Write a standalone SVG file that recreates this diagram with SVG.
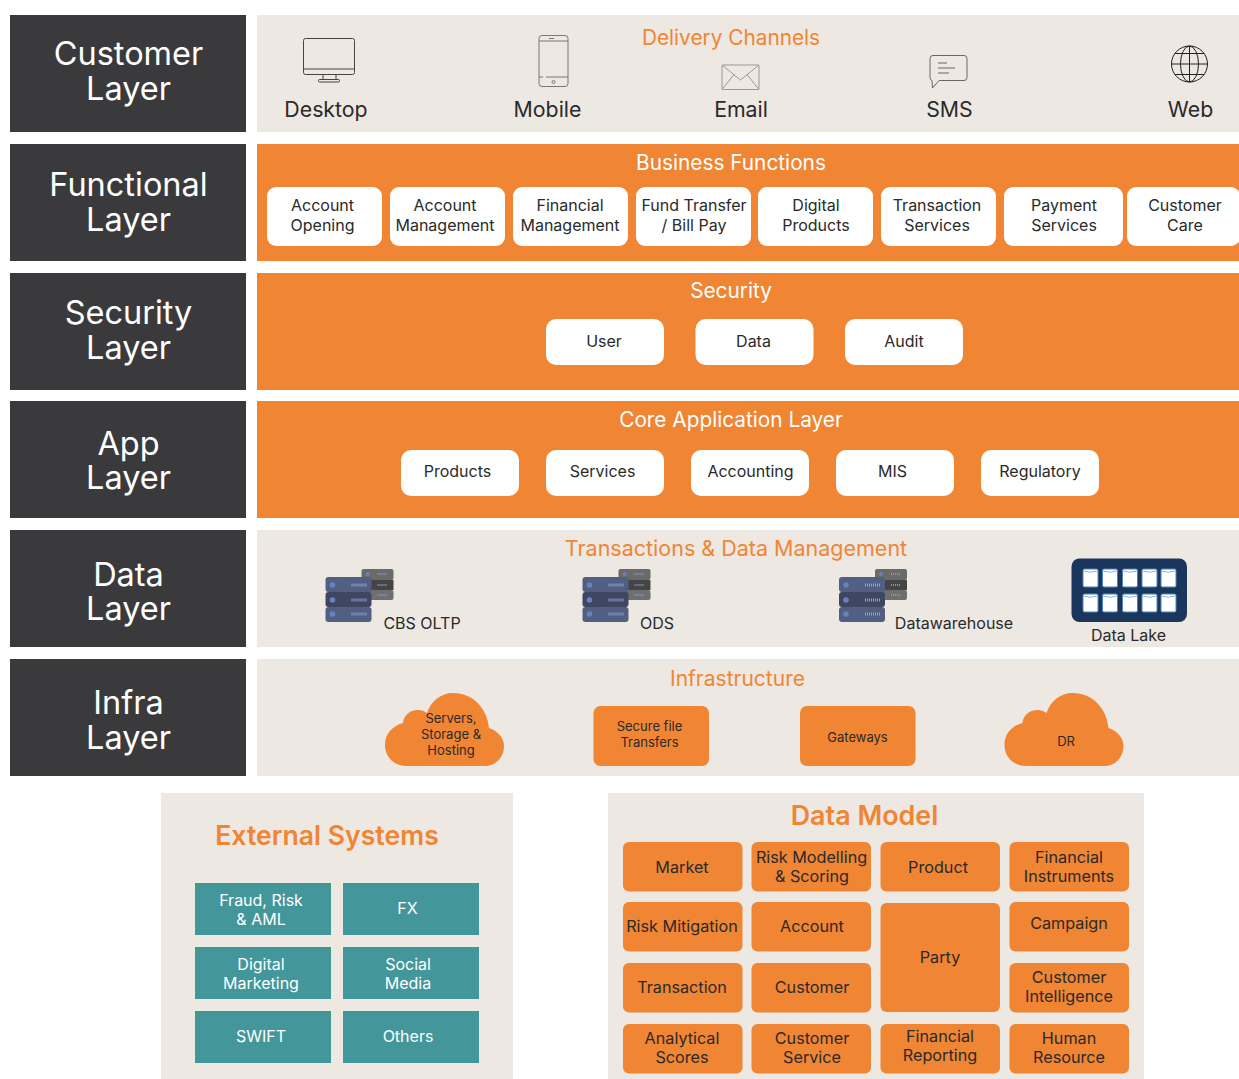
<svg xmlns="http://www.w3.org/2000/svg" xmlns:xlink="http://www.w3.org/1999/xlink" width="1239" height="1079" viewBox="0 0 1239 1079">
<style>
text{font-family:"Inter","Liberation Sans",sans-serif;text-anchor:middle;fill:#2a2a2a}
.lay{fill:#3a3a3c}.lt{fill:#fff;font-size:32.500px}
.beige{fill:#ede8e2}.or{fill:#f08534}
.h{fill:#f08534;font-size:20.800px}.hw{fill:#fff;font-size:20.800px}
.wb{fill:#fff}.t16{font-size:16px}.t21{font-size:21.300px}.t13{font-size:13px}
.teal{fill:#43979b}.tw{fill:#fff;font-size:16px}
.dm{font-size:16.200px}.ic{fill:none;stroke:#444;stroke-width:1}
</style>
<defs>
<g id="srv">
<rect x="36" y="0" width="32" height="11" rx="2" fill="#6a6a6a"/><rect x="36" y="11" width="32" height="10" fill="#444"/><rect x="36" y="21" width="32" height="10" rx="2" fill="#6f6f6f"/>
<circle cx="42" cy="5" r="2" fill="#6d7fbd"/><path d="M52 5h10M52 16h10M52 26h10" stroke="#8a93c0" stroke-width="2" stroke-dasharray="1 1"/>
<rect x="0" y="8" width="46" height="15" rx="3" fill="#535e83"/><rect x="0" y="23" width="46" height="15" rx="3" fill="#3f4662"/><rect x="0" y="38" width="46" height="15" rx="3" fill="#535e83"/>
<path d="M26 16h15M26 31h15M26 45h15" stroke="#96a0cf" stroke-width="3" stroke-dasharray="1 1"/>
<circle cx="7" cy="16" r="2.800" fill="#6d7fbd"/><circle cx="7" cy="31" r="2.800" fill="#6d7fbd"/><circle cx="7" cy="45" r="2.800" fill="#6d7fbd"/>
</g>
<g id="cyl"><rect x="0" y="1" width="15" height="18" rx="1.500" fill="#fff" stroke="#4d86bd" stroke-width="1"/><path d="M0.500 3q7 2.500 14 0" fill="none" stroke="#8db4da" stroke-width="1"/></g>
<path id="cloud" d="M22 73C8 73 0 63 0 52C0 41 7 33 18 30C19 21 26 17 33 17C37 17 39 18 42 20C46 8 56 0 68 0C88 0 102 15 104 35C113 38 119 45 119 53C119 65 110 73 100 73Z"/>
</defs>

<g id="layer-customer"><rect class="lay" x="10" y="15" width="236" height="117"/><text class="lt" x="128.500" y="65">Customer</text><text class="lt" x="128.500" y="100">Layer</text></g>
<g id="layer-functional"><rect class="lay" x="10" y="144" width="236" height="117"/><text class="lt" x="128.500" y="196">Functional</text><text class="lt" x="128.500" y="231">Layer</text></g>
<g id="layer-security"><rect class="lay" x="10" y="273" width="236" height="117"/><text class="lt" x="128.500" y="324">Security</text><text class="lt" x="128.500" y="359">Layer</text></g>
<g id="layer-app"><rect class="lay" x="10" y="401" width="236" height="117"/><text class="lt" x="128.500" y="455">App</text><text class="lt" x="128.500" y="489">Layer</text></g>
<g id="layer-data"><rect class="lay" x="10" y="530" width="236" height="117"/><text class="lt" x="128.500" y="586">Data</text><text class="lt" x="128.500" y="620">Layer</text></g>
<g id="layer-infra"><rect class="lay" x="10" y="659" width="236" height="117"/><text class="lt" x="128.500" y="714">Infra</text><text class="lt" x="128.500" y="749">Layer</text></g>

<g id="delivery">
<rect class="beige" x="257" y="15" width="982" height="117"/>
<text class="h" x="731" y="45">Delivery Channels</text>
<g class="ic"><rect x="303.500" y="38.500" width="51" height="36" rx="2"/><path d="M303.500 69h51M323 75v4.500M336 75v4.500"/><rect x="318.500" y="79.500" width="21" height="2.500" rx="1"/></g>
<g class="ic" style="stroke:#777"><rect x="539" y="35.500" width="29" height="51" rx="3"/><path d="M539 41h29M539 77h4M546 77h22M549 38.500h5"/><circle cx="553.500" cy="82" r="1.500"/></g>
<g class="ic" style="stroke:#999"><rect x="722" y="65" width="37" height="24.500" rx="1"/><path d="M722 65l18.500 15 18.500-15M722 89.500l12-15M759 89.500l-12-15"/></g>
<g class="ic" style="stroke:#666"><path d="M933 55.500h31a3 3 0 0 1 3 3v19a3 3 0 0 1-3 3h-25l-6.500 7.500-.5-7.500a3 3 0 0 1-2-3v-19a3 3 0 0 1 3-3z"/><path d="M938 63h9M938 68h17M938 73h11"/></g>
<g class="ic" style="stroke:#222"><circle cx="1189.500" cy="64" r="18"/><ellipse cx="1189.500" cy="64" rx="9" ry="18"/><path d="M1189.500 46v36M1171.500 64h36M1175 53.500h29M1175 74.500h29"/></g>
<text class="t21" x="326" y="117">Desktop</text><text class="t21" x="547.500" y="117">Mobile</text><text class="t21" x="741" y="117">Email</text><text class="t21" x="949.500" y="117">SMS</text><text class="t21" x="1190.500" y="117">Web</text>
</g>

<g id="business">
<rect class="or" x="257" y="144" width="982" height="117"/>
<text class="hw" x="731" y="170">Business Functions</text>
<g class="wb">
<rect x="267" y="187" width="115" height="59" rx="9"/><rect x="390" y="187" width="115" height="59" rx="9"/><rect x="513" y="187" width="115" height="59" rx="9"/><rect x="636" y="187" width="115" height="59" rx="9"/><rect x="758" y="187" width="115" height="59" rx="9"/><rect x="881" y="187" width="115" height="59" rx="9"/><rect x="1004" y="187" width="119" height="59" rx="9"/><rect x="1127" y="187" width="113" height="59" rx="9"/>
</g>
<text class="t16" x="322.500" y="211">Account</text><text class="t16" x="322.500" y="231">Opening</text>
<text class="t16" x="445" y="211">Account</text><text class="t16" x="445" y="231">Management</text>
<text class="t16" x="570" y="211">Financial</text><text class="t16" x="570" y="231">Management</text>
<text class="t16" x="694" y="211">Fund Transfer</text><text class="t16" x="694" y="231">/ Bill Pay</text>
<text class="t16" x="816" y="211">Digital</text><text class="t16" x="816" y="231">Products</text>
<text class="t16" x="937" y="211">Transaction</text><text class="t16" x="937" y="231">Services</text>
<text class="t16" x="1064" y="211">Payment</text><text class="t16" x="1064" y="231">Services</text>
<text class="t16" x="1185" y="211">Customer</text><text class="t16" x="1185" y="231">Care</text>
</g>

<g id="security">
<rect class="or" x="257" y="273" width="982" height="117"/>
<text class="hw" x="731" y="298">Security</text>
<g class="wb"><rect x="546" y="319" width="118" height="46" rx="10"/><rect x="695.500" y="319" width="118" height="46" rx="10"/><rect x="845" y="319" width="118" height="46" rx="10"/></g>
<text class="t16" x="604" y="347">User</text><text class="t16" x="753.500" y="347">Data</text><text class="t16" x="904" y="347">Audit</text>
</g>

<g id="core">
<rect class="or" x="257" y="401" width="982" height="117"/>
<text class="hw" x="731" y="427">Core Application Layer</text>
<g class="wb"><rect x="401" y="450" width="118" height="46" rx="10"/><rect x="546" y="450" width="118" height="46" rx="10"/><rect x="691" y="450" width="118" height="46" rx="10"/><rect x="836" y="450" width="118" height="46" rx="10"/><rect x="981" y="450" width="118" height="46" rx="10"/></g>
<text class="t16" x="457.500" y="477">Products</text><text class="t16" x="602.500" y="477">Services</text><text class="t16" x="750.500" y="477">Accounting</text><text class="t16" x="892.500" y="477">MIS</text><text class="t16" x="1040" y="477">Regulatory</text>
</g>

<g id="data">
<rect class="beige" x="257" y="530" width="982" height="117"/>
<text x="736" y="556" style="fill:#f08534;font-size:21.500px">Transactions &amp; Data Management</text>
<use xlink:href="#srv" href="#srv" x="325.500" y="569"/><use xlink:href="#srv" href="#srv" x="582.500" y="569"/><use xlink:href="#srv" href="#srv" x="839" y="569"/>
<text class="t16" x="422" y="629">CBS OLTP</text><text class="t16" x="657" y="629">ODS</text><text class="t16" x="954" y="629">Datawarehouse</text>
<rect x="1071.500" y="558.500" width="115.500" height="63.500" rx="8" fill="#1b365d"/>
<use href="#cyl" x="1083" y="568"/><use href="#cyl" x="1102.500" y="568"/><use href="#cyl" x="1122.500" y="568"/><use href="#cyl" x="1142" y="568"/><use href="#cyl" x="1161" y="568"/>
<use href="#cyl" x="1083" y="593"/><use href="#cyl" x="1102.500" y="593"/><use href="#cyl" x="1122.500" y="593"/><use href="#cyl" x="1142" y="593"/><use href="#cyl" x="1161" y="593"/>
<text class="t16" x="1128.500" y="641">Data Lake</text>
</g>

<g id="infra">
<rect class="beige" x="257" y="659" width="982" height="117"/>
<text x="737.500" y="686" style="fill:#f08534;font-size:21px">Infrastructure</text>
<use class="or" href="#cloud" x="385" y="693"/><use class="or" href="#cloud" x="1004.500" y="693"/>
<rect class="or" x="593.500" y="706" width="115.500" height="60" rx="7"/><rect class="or" x="800" y="706" width="115.500" height="60" rx="7"/>
<text class="t13" x="451" y="723">Servers,</text><text class="t13" x="451" y="739">Storage &amp;</text><text class="t13" x="451" y="755">Hosting</text>
<text class="t13" x="649.500" y="731">Secure file</text><text class="t13" x="649.500" y="747">Transfers</text>
<text class="t13" x="857.500" y="742">Gateways</text><text class="t13" x="1066" y="746">DR</text>
</g>

<g id="external">
<rect class="beige" x="161" y="793" width="352" height="286"/>
<text x="327" y="845" style="fill:#f08534;font-size:26.600px;font-weight:600">External Systems</text>
<g class="teal"><rect x="195" y="883" width="136" height="52"/><rect x="343" y="883" width="136" height="52"/><rect x="195" y="947" width="136" height="52"/><rect x="343" y="947" width="136" height="52"/><rect x="195" y="1011" width="136" height="52"/><rect x="343" y="1011" width="136" height="52"/></g>
<text class="tw" x="261" y="906">Fraud, Risk</text><text class="tw" x="261" y="925">&amp; AML</text><text class="tw" x="407.500" y="914">FX</text>
<text class="tw" x="261" y="970">Digital</text><text class="tw" x="261" y="989">Marketing</text><text class="tw" x="408" y="970">Social</text><text class="tw" x="408" y="989">Media</text>
<text class="tw" x="261" y="1042">SWIFT</text><text class="tw" x="408" y="1042">Others</text>
</g>

<g id="datamodel">
<rect class="beige" x="608" y="793" width="536" height="286"/>
<text x="864.500" y="825" style="fill:#f08534;font-size:26.900px;font-weight:600">Data Model</text>
<g class="or">
<rect x="623" y="842" width="119.500" height="49.500" rx="6"/><rect x="751.500" y="842" width="119.500" height="49.500" rx="6"/><rect x="880.500" y="842" width="119.500" height="49.500" rx="6"/><rect x="1009.500" y="842" width="119.500" height="49.500" rx="6"/>
<rect x="623" y="902" width="119.500" height="49.500" rx="6"/><rect x="751.500" y="902" width="119.500" height="49.500" rx="6"/><rect x="880.500" y="903" width="119.500" height="109" rx="6"/><rect x="1009.500" y="902" width="119.500" height="49.500" rx="6"/>
<rect x="623" y="963" width="119.500" height="49.500" rx="6"/><rect x="751.500" y="963" width="119.500" height="49.500" rx="6"/><rect x="1009.500" y="963" width="119.500" height="49.500" rx="6"/>
<rect x="623" y="1024" width="119.500" height="49.500" rx="6"/><rect x="751.500" y="1024" width="119.500" height="49.500" rx="6"/><rect x="880.500" y="1024" width="119.500" height="49.500" rx="6"/><rect x="1009.500" y="1024" width="119.500" height="49.500" rx="6"/>
</g>
<text class="dm" x="682" y="873">Market</text><text class="dm" x="811.500" y="863">Risk Modelling</text><text class="dm" x="812" y="882">&amp; Scoring</text><text class="dm" x="938" y="873">Product</text><text class="dm" x="1069" y="863">Financial</text><text class="dm" x="1069" y="882">Instruments</text>
<text class="dm" x="682" y="932">Risk Mitigation</text><text class="dm" x="812" y="932">Account</text><text class="dm" x="940" y="963">Party</text><text class="dm" x="1069" y="929">Campaign</text>
<text class="dm" x="682" y="993">Transaction</text><text class="dm" x="812" y="993">Customer</text><text class="dm" x="1069" y="983">Customer</text><text class="dm" x="1069" y="1002">Intelligence</text>
<text class="dm" x="682" y="1044">Analytical</text><text class="dm" x="682" y="1063">Scores</text><text class="dm" x="812" y="1044">Customer</text><text class="dm" x="812" y="1063">Service</text><text class="dm" x="940" y="1042">Financial</text><text class="dm" x="940" y="1061">Reporting</text><text class="dm" x="1069" y="1044">Human</text><text class="dm" x="1069" y="1063">Resource</text>
</g>
<g id="connectors"/>
</svg>
